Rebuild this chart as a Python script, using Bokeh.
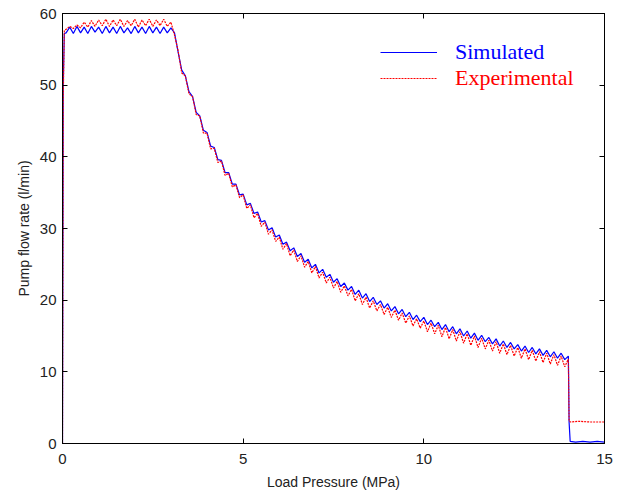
import numpy as np
from bokeh.plotting import figure
from bokeh.models import LinearAxis, Legend, LegendItem, FixedTicker, Range1d
from bokeh.embed import file_html
from bokeh.resources import INLINE

# ---------------- data ----------------
x_ticks = [0, 5, 10, 15]
y_ticks = [0, 10, 20, 30, 40, 50, 60]

# simulated series
sim_x_start = [0.0, 0.02, 0.05]
sim_y_start = [0.0, 50.0, 57.2]
sim_flat = [57.3, 58.1, 57.2, 58.2, 57.3, 58.1, 57.2, 58.2, 57.4, 58.1,
            57.2, 58.2, 57.3, 58.1, 57.2, 58.2, 57.3, 58.0, 57.2, 58.2,
            57.3, 58.1, 57.2, 58.2, 57.3, 58.1, 57.2, 58.1, 57.3, 58.0]   # p = 0.1 .. 3.0
sim_curve = [57.3, 54.6, 52.1, 51.3, 49.1, 48.4, 46.2, 45.7, 43.7, 43.4,
             41.5, 41.3, 39.6, 39.5, 37.8, 37.8, 36.2, 36.2, 34.7, 34.8,
             33.3, 33.5, 32.1, 32.3, 30.9, 31.1, 29.8, 30.1, 28.8, 29.1,
             27.8, 28.1, 26.9, 27.3, 26.1, 26.5, 25.3, 25.7, 24.5, 25.0,
             23.8, 24.3, 23.2, 23.6, 22.5, 23.0, 21.9, 22.4, 21.4, 21.9,
             20.8, 21.4, 20.3, 20.9, 19.8, 20.4, 19.4, 19.9, 18.9, 19.5,
             18.5, 19.1, 18.1, 18.7, 17.7, 18.3, 17.3, 17.9, 17.0, 17.6,
             16.6, 17.2, 16.3, 16.9, 15.9, 16.6, 15.6, 16.3, 15.3, 16.0,
             15.0, 15.7, 14.7, 15.4, 14.4, 15.1, 14.2, 14.8, 13.9, 14.6,
             13.6, 14.3, 13.4, 14.1, 13.2, 13.8, 12.9, 13.6, 12.7, 13.4,
             12.5, 13.2, 12.3, 13.0, 12.1, 12.8, 11.9, 12.6, 11.7, 12.2]  # p = 3.1 .. 14.0
sim_x_end = [14.02, 14.05, 14.2, 14.4, 14.6, 14.8, 15.0]
sim_y_end = [3.0, 0.3, 0.2, 0.3, 0.2, 0.3, 0.2]

# experimental series
exp_x_start = [0.0, 0.02, 0.05]
exp_y_start = [0.0, 48.0, 57.6]
exp_flat = [57.8, 58.2, 57.9, 58.4, 58.0, 58.8, 58.1, 59.0, 58.2, 59.1,
            58.3, 59.2, 58.2, 59.1, 58.3, 59.2, 58.2, 59.0, 58.3, 59.2,
            58.1, 59.1, 58.3, 59.2, 58.2, 59.1, 58.3, 59.2, 58.2, 58.8]   # p = 0.1 .. 3.0
exp_curve = [57.0, 54.8, 51.7, 51.3, 48.8, 48.4, 45.9, 45.7, 43.3, 43.3,
             41.1, 41.2, 39.2, 39.4, 37.4, 37.7, 35.8, 36.1, 34.3, 34.7,
             32.8, 33.3, 31.5, 32.1, 30.3, 30.9, 29.2, 29.8, 28.2, 28.8,
             27.1, 27.9, 26.2, 27.0, 25.4, 26.2, 24.6, 25.4, 23.8, 24.7,
             23.1, 23.9, 22.4, 23.2, 21.7, 22.6, 21.1, 22.0, 20.6, 21.5,
             19.9, 20.9, 19.4, 20.4, 18.9, 19.9, 18.5, 19.4, 18.0, 19.0,
             17.6, 18.6, 17.2, 18.2, 16.8, 17.8, 16.4, 17.4, 16.1, 17.1,
             15.6, 16.8, 15.3, 16.5, 14.9, 16.2, 14.6, 15.9, 14.3, 15.6,
             14.0, 15.3, 13.7, 15.0, 13.4, 14.7, 13.2, 14.4, 12.9, 14.2,
             12.6, 13.9, 12.4, 13.7, 12.2, 13.4, 11.9, 13.2, 11.7, 13.0,
             11.5, 12.8, 11.3, 12.6, 11.1, 12.4, 10.9, 12.2, 10.7, 11.8]  # p = 3.1 .. 14.0
exp_x_end = [14.02, 14.05, 14.3, 14.6, 15.0]
exp_y_end = [3.2, 3.0, 3.1, 3.0, 3.0]

flat_x = np.round(np.arange(1, 31) * 0.1, 2).tolist()
curve_x = np.round(np.arange(31, 141) * 0.1, 2).tolist()

sim_x = sim_x_start + flat_x + curve_x + sim_x_end
sim_y = sim_y_start + sim_flat + sim_curve + sim_y_end
exp_x = exp_x_start + flat_x + curve_x + exp_x_end
exp_y = exp_y_start + exp_flat + exp_curve + exp_y_end

# ---------------- figure ----------------
p = figure(width=629, height=499, output_backend="svg", toolbar_location=None,
           x_range=Range1d(0, 15), y_range=Range1d(0, 60),
           min_border_left=62, min_border_right=25, min_border_top=13, min_border_bottom=56)
p.background_fill_color = "white"
p.border_fill_color = "white"
p.outline_line_color = "black"
p.outline_line_width = 1
p.xgrid.visible = False
p.ygrid.visible = False

r_sim = p.line(sim_x, sim_y, line_color="#0000ff", line_width=1.2)
r_exp = p.line(exp_x, exp_y, line_color="#ff0000", line_width=1.2, line_dash="2 1")

tick_font = "Liberation Sans"
for ax in (p.xaxis[0], p.yaxis[0]):
    ax.major_tick_in = 5
    ax.major_tick_out = 0
    ax.minor_tick_in = 0
    ax.minor_tick_out = 0
    ax.axis_line_color = "black"
    ax.major_tick_line_color = "black"
    ax.major_label_text_font = tick_font
    ax.major_label_text_font_size = "15px"
    ax.major_label_text_color = "#222222"
    ax.axis_label_text_font = tick_font
    ax.axis_label_text_font_size = "14px"
    ax.axis_label_text_font_style = "normal"
    ax.axis_label_text_color = "#222222"

p.xaxis[0].ticker = FixedTicker(ticks=x_ticks)
p.yaxis[0].ticker = FixedTicker(ticks=y_ticks)
p.xaxis[0].axis_label = "Load Pressure (MPa)"
p.yaxis[0].axis_label = "Pump flow rate (l/min)"
p.xaxis[0].major_label_standoff = 10
p.yaxis[0].major_label_standoff = 6
p.xaxis[0].axis_label_standoff = 7
p.yaxis[0].axis_label_standoff = 5

top = LinearAxis(ticker=FixedTicker(ticks=x_ticks), major_tick_in=5, major_tick_out=0,
                 minor_tick_in=0, minor_tick_out=0,
                 major_label_overrides={t: "" for t in x_ticks},
                 major_label_standoff=0, axis_line_color="black")
right = LinearAxis(ticker=FixedTicker(ticks=y_ticks), major_tick_in=5, major_tick_out=0,
                   minor_tick_in=0, minor_tick_out=0,
                   major_label_overrides={t: "" for t in y_ticks},
                   major_label_standoff=0, axis_line_color="black")
p.add_layout(top, "above")
p.add_layout(right, "right")

# legends (one per entry so each label gets its own colour)
for item_label, rend, col, loc in (("Simulated", r_sim, "#0000ff", (318, 378)),
                                   ("Experimental", r_exp, "#ff0000", (318, 352))):
    lg = Legend(items=[LegendItem(label=item_label, renderers=[rend])], location=loc,
                background_fill_alpha=0, border_line_alpha=0,
                label_text_color=col, label_text_font="Liberation Serif",
                label_text_font_size="22px", glyph_width=57, glyph_height=26,
                label_height=26, label_standoff=18, padding=0, margin=0, spacing=0)
    p.add_layout(lg, "center")

open("out.html", "w").write(file_html(p, INLINE))
